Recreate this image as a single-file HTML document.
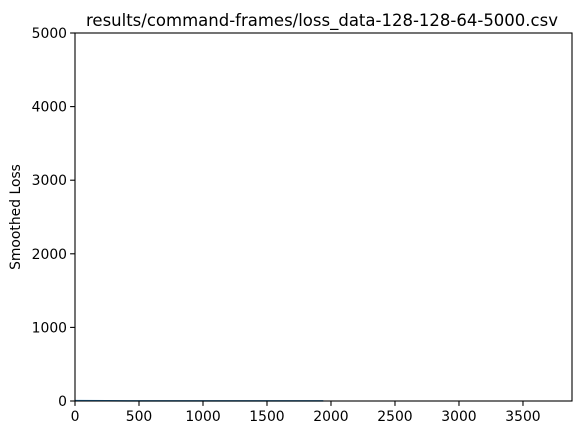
<!DOCTYPE html>
<html><head><meta charset="utf-8"><style>
body{margin:0;background:#fff;font-family:"Liberation Sans","DejaVu Sans",sans-serif}
svg text{font-family:"DejaVu Sans","Liberation Sans",sans-serif;font-size:13.9px;fill:#000}
</style></head><body>
<svg id="chart" width="584" height="435">
<rect x="0" y="0" width="584" height="435" fill="#fff"/>
<text x="322" y="26" text-anchor="middle" style="font-size:16.5px">results/command-frames/loss_data-128-128-64-5000.csv</text>
<text transform="translate(20,217) rotate(-90)" text-anchor="middle">Smoothed Loss</text>
<g id="marks"></g>
<g id="axes"></g>
</svg>
<script>
const xTicks=[0,500,1000,1500,2000,2500,3000,3500];
const yTicks=[0,1000,2000,3000,4000,5000];
const steps=[0,250,500,750,1000,1250,1500,1750,1940];
const lossValues=[5,3,2,2,2,1,1,1,1];
const xMax=3883, yMax=5000;
const L=75,R=572,T=33,B=401;
const xs=v=>L+(v/xMax)*(R-L);
const ys=v=>B-(v/yMax)*(B-T);
const NS="http://www.w3.org/2000/svg";
const marks=document.getElementById('marks'),axes=document.getElementById('axes');
function mk(tag,attrs,parent){const e=document.createElementNS(NS,tag);for(const k in attrs)e.setAttribute(k,attrs[k]);parent.appendChild(e);return e;}
const line=mk('polyline',{points:steps.map((s,i)=>xs(s)+','+ys(lossValues[i])).join(' '),fill:'none',stroke:'#1f77b4','stroke-width':1.5},marks);


const frame=mk('rect',{x:L,y:T,width:R-L,height:B-T,fill:'none',stroke:'#000','stroke-width':1.1},axes);


xTicks.forEach(t=>{
  const x=xs(t);
  mk('line',{x1:x,x2:x,y1:B,y2:B+4.9,stroke:'#000','stroke-width':1.1},axes);
  const tx=mk('text',{x:x,y:B+20,'text-anchor':'middle'},axes);
  tx.textContent=t;
  
  
});
yTicks.forEach(t=>{
  const y=ys(t);
  mk('line',{x1:L-4.9,x2:L,y1:y,y2:y,stroke:'#000','stroke-width':1.1},axes);
  const tx=mk('text',{x:L-8,y:y+5,'text-anchor':'end'},axes);
  tx.textContent=t;
  
  
});
</script>
</body></html>
